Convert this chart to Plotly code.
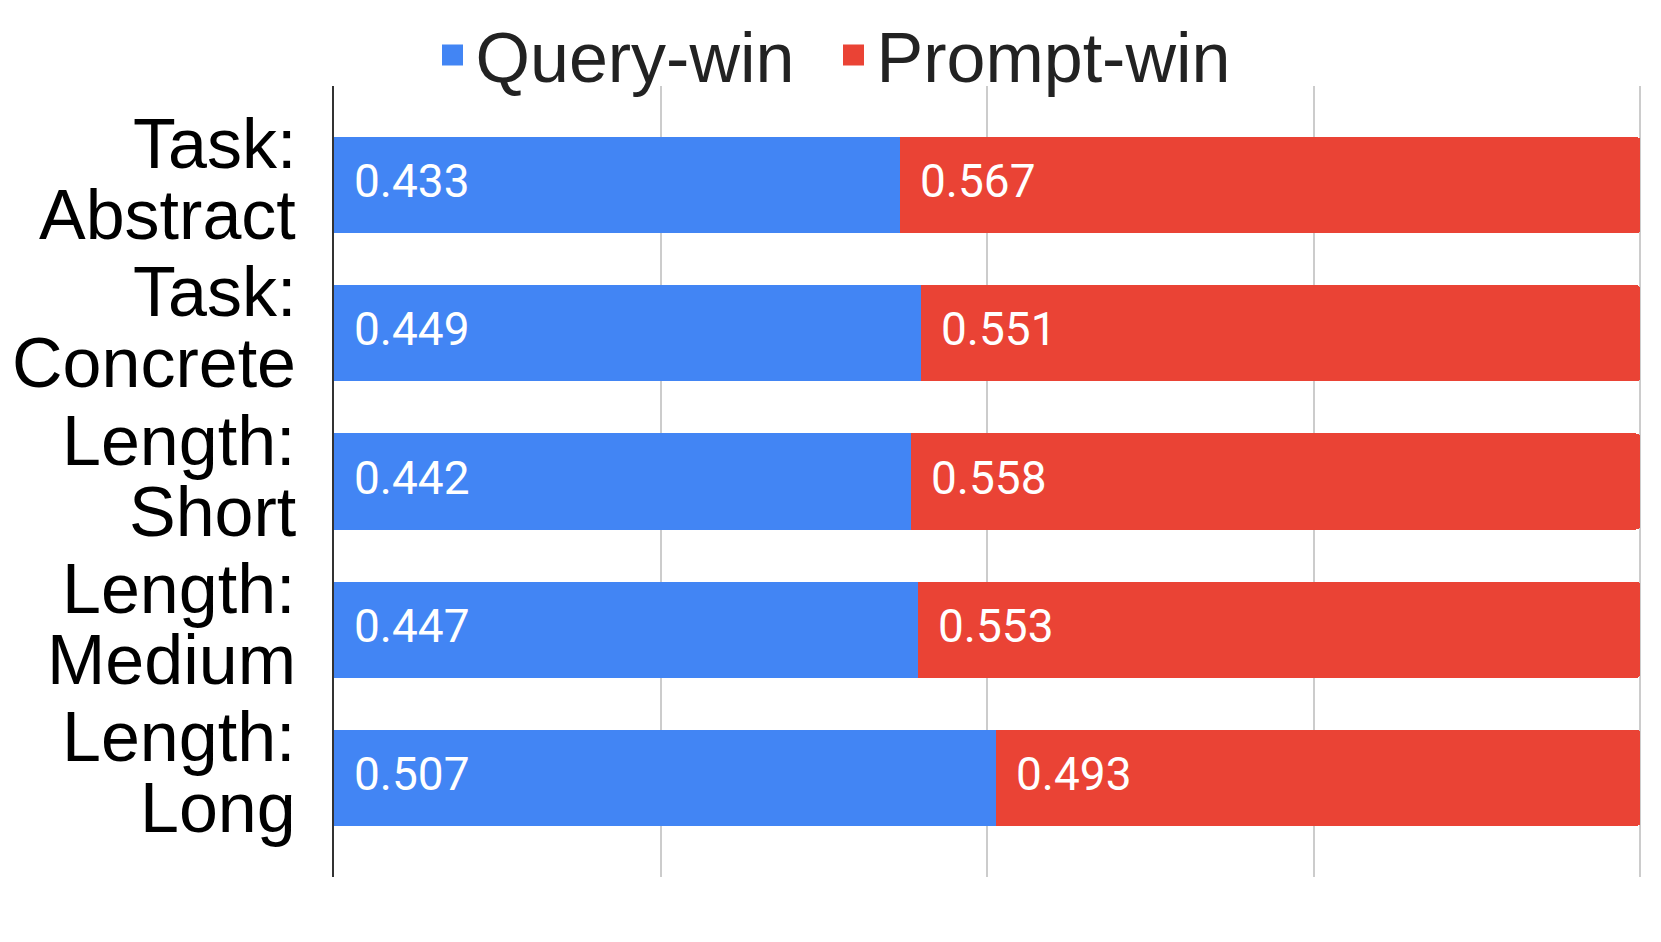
import plotly.graph_objects as go

categories = ["Task: Abstract", "Task: Concrete", "Length: Short", "Length: Medium", "Length: Long"]
query_win = [0.433, 0.449, 0.442, 0.447, 0.507]
prompt_win = [0.567, 0.551, 0.558, 0.553, 0.493]
series_names = ["Query-win", "Prompt-win"]
colors = ["#4285F4", "#EA4335"]
x_grid = [0, 0.25, 0.5, 0.75, 1.0]

W, H = 1645, 926  # page body has an 8px default margin

fig = go.Figure()
for vals, name, col in zip([query_win, prompt_win], series_names, colors):
    fig.add_trace(go.Bar(
        y=categories, x=vals, orientation="h", name=name,
        marker=dict(color=col, line=dict(width=0)),
        showlegend=False, hoverinfo="x+y",
    ))

# legend-only entries (larger swatches)
for name, col in zip(series_names, colors):
    fig.add_trace(go.Scatter(
        x=[None], y=[None], mode="markers", name=name,
        marker=dict(symbol="square", size=16, color=col, line=dict(color=col, width=5)),
        showlegend=True,
    ))

annotations = []
# two-line category labels
for cat in categories:
    first, second = cat.split(" ", 1)
    for txt, ys in ((first, 41), (second, -30)):
        annotations.append(dict(
            xref="paper", x=0, yref="y", y=cat, text=txt, showarrow=False,
            xanchor="right", yanchor="middle", xshift=-36, yshift=ys,
            font=dict(family="Arial, Liberation Sans, sans-serif", size=70, color="#000000"),
        ))
# value labels inside segments
for cat, q, p in zip(categories, query_win, prompt_win):
    for base, v in ((0, q), (q, p)):
        annotations.append(dict(
            xref="x", x=base, yref="y", y=cat, text=f"{v:.3f}", showarrow=False,
            xanchor="left", yanchor="middle", xshift=18, yshift=4,
            font=dict(family="Roboto, sans-serif", size=46, color="#ffffff"),
        ))

fig.update_layout(
    width=W, height=H,
    barmode="stack", bargap=0.352, barcornerradius=4,
    margin=dict(l=326, r=10, t=78, b=57, autoexpand=False),
    paper_bgcolor="white", plot_bgcolor="white",
    annotations=annotations,
    legend=dict(
        orientation="h", xref="container", yref="container",
        x=0.5, xanchor="center", y=1 - 47 / H, yanchor="middle",
        font=dict(family="Arial, Liberation Sans, sans-serif", size=70, color="#222222"),
        itemsizing="trace", itemwidth=36, bgcolor="rgba(0,0,0,0)", traceorder="normal",
        entrywidth=350,
    ),
    xaxis=dict(
        range=[0, 1.002], tickvals=x_grid, showticklabels=False,
        showgrid=True, gridcolor="#cccccc", gridwidth=1.5,
        zeroline=False, showline=False, fixedrange=True,
    ),
    yaxis=dict(
        type="category", categoryorder="array", categoryarray=categories,
        range=[4.669, -0.669], showticklabels=False, showgrid=False,
        zeroline=False, showline=True, linecolor="#333333", linewidth=2,
        fixedrange=True,
    ),
)

fig.write_html("out.html")
